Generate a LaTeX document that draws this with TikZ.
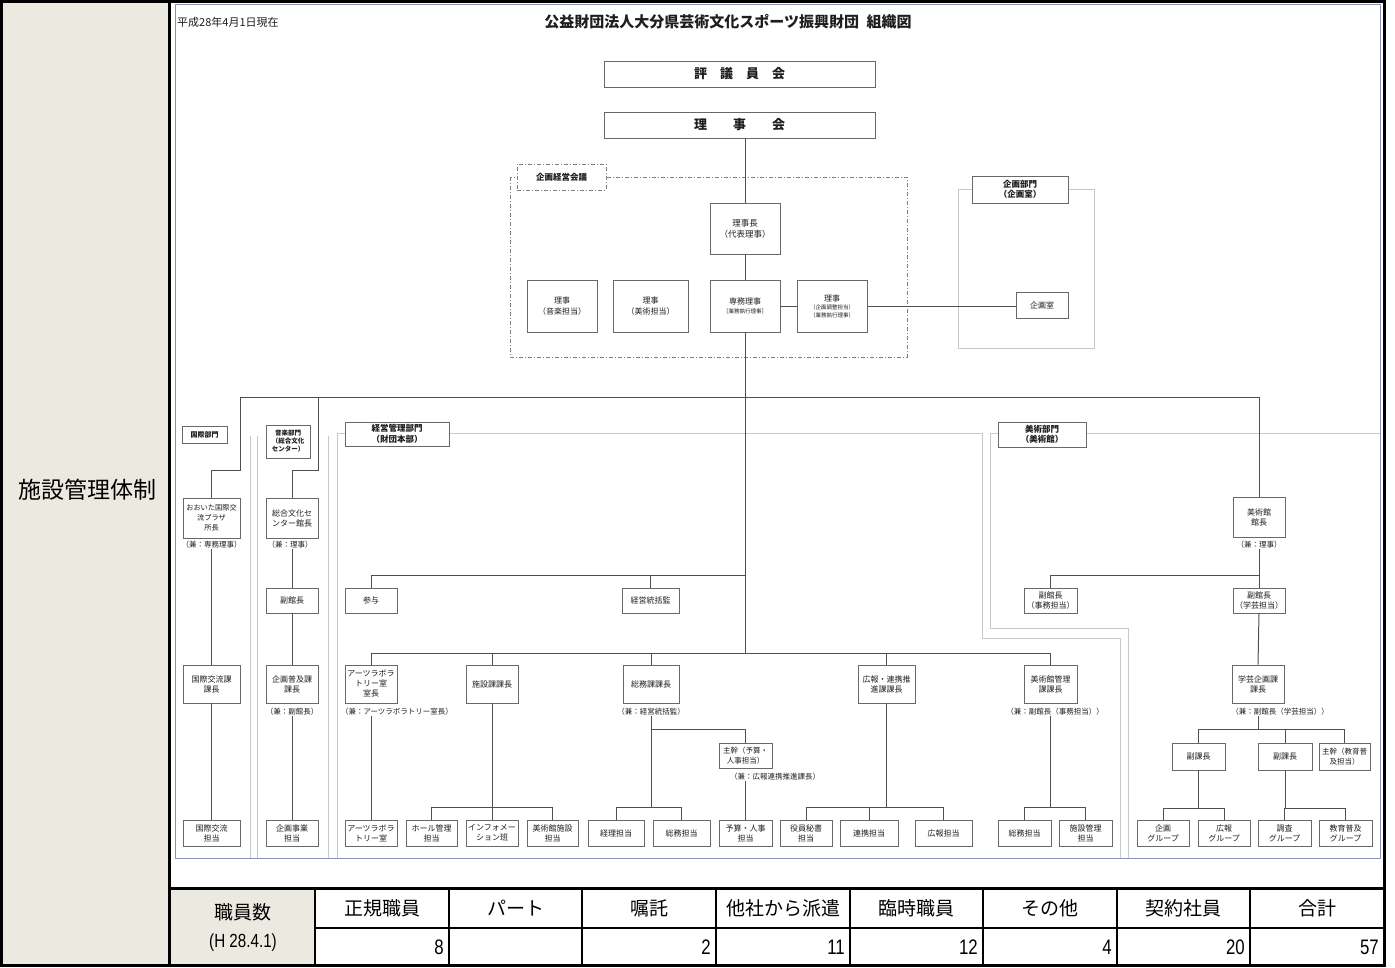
\documentclass[tikz,border=0pt]{standalone}
\usepackage{fontspec}
\setmainfont{Noto Sans CJK JP}
\newfontfamily\numfont{Liberation Sans}[FakeStretch=0.8]
\definecolor{beige}{RGB}{236,233,224}
\definecolor{linec}{RGB}{80,80,80}
\definecolor{boxc}{RGB}{105,105,105}
\definecolor{framec}{RGB}{200,200,200}
\definecolor{borderc}{RGB}{140,146,190}
\definecolor{txtc}{RGB}{30,30,30}
\newcommand\sm[1]{{\fontsize{5.5}{6.5}\selectfont #1}}
\newcommand\bx[7][]{\node[box,#1,minimum width={#5-#3},minimum height={#6-#4}] (#2) at ({(#3+#5)/2},{(#4+#6)/2}) {#7};}
\tikzset{
 box/.style={draw=boxc, line width=0.9pt, fill=white, align=center, inner sep=0.5pt, text=txtc, font=\fontsize{8}{10}\selectfont},
 lbl/.style={font=\fontsize{8.5}{10.5}\selectfont\bfseries},
 note/.style={inner sep=0pt, text=txtc, font=\fontsize{7.5}{8}\selectfont},
 conn/.style={draw=linec, line width=1pt},
 frame/.style={draw=framec, line width=0.8pt},
 hdr/.style={inner sep=0pt, font=\fontsize{19}{20}\selectfont},
 num/.style={inner sep=0pt, anchor=east, font=\numfont\fontsize{21}{22}\selectfont},
}
\begin{document}
\begin{tikzpicture}[x=1pt,y=-1pt]
\useasboundingbox (0,0) rectangle (1395,967);
% backgrounds
\fill[beige] (0,0) rectangle (168,967);
\fill[beige] (168,888) rectangle (315,967);
% chart frames
\draw[frame] (250,436) -- (250,858);
\draw[frame] (257,436) -- (257,858);
\draw[frame] (328,436) -- (328,858);
\draw[frame] (337,858) -- (337,433) -- (982,433) -- (982,638) -- (1120,638) -- (1120,858);
\draw[frame] (1380,433) -- (990,433) -- (990,628) -- (1128,628) -- (1128,858);
\draw[draw=borderc, line width=1pt] (175,4) rectangle (1380,858);
\draw[frame] (958,189) rectangle (1094,348);
\draw[draw=gray, line width=0.8pt, dash pattern=on 4pt off 2pt on 1pt off 2pt] (510,177) rectangle (907,357);

% titles
\node[anchor=west, inner sep=0pt, text=txtc, font=\fontsize{11}{12}\selectfont] (date) at (177,22) {平成28年4月1日現在};
\node[inner sep=0pt, text=txtc, font=\fontsize{15}{16}\selectfont\bfseries] (title) at (728,22) {公益財団法人大分県芸術文化スポーツ振興財団\hspace{0.5em}組織図};

% top boxes
\bx[font=\fontsize{13}{14}\selectfont\bfseries]{hyogi}{604}{61}{875}{87}{評　議　員　会}
\bx[font=\fontsize{13}{14}\selectfont\bfseries]{rijikai}{604}{112}{875}{138}{理　　事　　会}
\bx[lbl, dash pattern=on 4pt off 2pt on 1pt off 2pt, draw=gray]{kikei}{517}{164}{606}{190}{企画経営会議}
\bx[font=\fontsize{8.5}{11}\selectfont]{rijicho}{710}{203}{780}{254}{理事長\\（代表理事）}
\bx[font=\fontsize{8}{11}\selectfont]{rijiongaku}{527}{280}{597}{332}{理事\\（音楽担当）}
\bx[font=\fontsize{8}{11}\selectfont]{rijibijutsu}{613}{280}{688}{332}{理事\\（美術担当）}
\bx[font=\fontsize{8}{9.5}\selectfont]{senmu}{710}{280}{780}{332}{専務理事\\\sm{［業務執行理事］}}
\bx[font=\fontsize{8}{8}\selectfont]{rijikikaku}{797}{280}{867}{332}{理事\\\sm{（企画調整担当）}\\\sm{（業務執行理事）}}
\bx[lbl]{kikakubumon}{972}{176}{1068}{203}{企画部門\\（企画室）}
\bx{kikakushitsu}{1016}{292}{1068}{318}{企画室}

% department labels
\bx[font=\fontsize{7}{8}\selectfont\bfseries]{kokusaibumon}{182}{426}{227}{443}{国際部門}
\bx[font=\fontsize{6.5}{8}\selectfont\bfseries]{ongakubumon}{266}{425}{310}{458}{音楽部門\\（総合文化\\センター）}
\bx[lbl]{keieibumon}{345}{422}{449}{446}{経営管理部門\\（財団本部）}
\bx[lbl]{bijutsubumon}{998}{422}{1086}{447}{美術部門\\（美術館）}

% kokusai column
\bx[font=\fontsize{7.2}{10}\selectfont]{plaza}{183}{498}{240}{538}{おおいた国際交\\流プラザ\\所長}
\node[note] (nplaza) at (211.5,545) {（兼：専務理事）};
\bx{kokusaikacho}{183}{665}{240}{703}{国際交流課\\課長}
\bx{kokusaitanto}{183}{820}{240}{846}{国際交流\\担当}

% ongaku column
\bx{sogobunka}{266}{498}{318}{538}{総合文化セ\\ンター館長}
\node[note] (nsogo) at (290,545) {（兼：理事）};
\bx{fukukancho}{266}{588}{318}{613}{副館長}
\bx{fukyukacho}{266}{665}{318}{703}{企画普及課\\課長}
\node[note] (nfukyu) at (292,712) {（兼：副館長）};
\bx{kikakujigyo}{266}{820}{318}{846}{企画事業\\担当}

% keiei
\bx{sanyo}{345}{588}{397}{613}{参与}
\bx{tokatsu}{622}{588}{679}{613}{経営統括監}
\bx{artslab}{345}{665}{397}{703}{アーツラボラ\\トリー室\\室長}
\node[note] (narts) at (397,712) {（兼：アーツラボラトリー室長）};
\bx{shisetsu}{466}{665}{518}{703}{施設課課長}
\bx{somu}{623}{665}{679}{703}{総務課課長}
\node[note] (nsomu) at (651,712) {（兼：経営統括監）};
\bx[font=\fontsize{7.5}{10}\selectfont]{shukan}{719}{743}{772}{768}{主幹（予算・\\人事担当）}
\node[note] (nshukan) at (775,777) {（兼：広報連携推進課長）};
\bx{koho}{858}{665}{915}{703}{広報・連携推\\進課課長}
\bx{bijkanri}{1024}{665}{1077}{703}{美術館管理\\課課長}
\node[note] (nbijkanri) at (1055,712) {（兼：副館長（事務担当））};

% bottom row
\bx{artsroom}{345}{820}{397}{846}{アーツラボラ\\トリー室}
\bx{hall}{406}{820}{457}{846}{ホール管理\\担当}
\bx{info}{466}{820}{518}{846}{インフォメー\\ション班}
\bx{bijshisetsu}{527}{820}{578}{846}{美術館施設\\担当}
\bx{keiri}{588}{820}{644}{846}{経理担当}
\bx{somutanto}{653}{820}{710}{846}{総務担当}
\bx{yosan}{719}{820}{772}{846}{予算・人事\\担当}
\bx{yakuin}{780}{820}{832}{846}{役員秘書\\担当}
\bx{renkei}{840}{820}{898}{846}{連携担当}
\bx{kohotanto}{915}{820}{972}{846}{広報担当}
\bx{somutantob}{998}{820}{1051}{846}{総務担当}
\bx{shisetsukanri}{1059}{820}{1112}{846}{施設管理\\担当}
\bx{kikakugr}{1137}{820}{1189}{846}{企画\\グループ}
\bx{kohogr}{1198}{820}{1250}{846}{広報\\グループ}
\bx{chosagr}{1258}{820}{1311}{846}{調査\\グループ}
\bx{kyoikugr}{1319}{820}{1372}{846}{教育普及\\グループ}

% bijutsu
\bx{kancho}{1233}{497}{1285}{537}{美術館\\館長}
\node[note] (nkancho) at (1259,545) {（兼：理事）};
\bx{fkjimu}{1024}{588}{1077}{613}{副館長\\（事務担当）}
\bx{fkgakugei}{1233}{588}{1285}{613}{副館長\\（学芸担当）}
\bx{gakugei}{1232}{665}{1284}{703}{学芸企画課\\課長}
\node[note] (ngakugei) at (1280,712) {（兼：副館長（学芸担当））};
\bx{fukukacho}{1172}{743}{1225}{770}{副課長}
\bx{fukukachob}{1258}{743}{1312}{770}{副課長}
\bx[font=\fontsize{7.5}{10}\selectfont]{shukanb}{1319}{743}{1370}{770}{主幹（教育普\\及担当）}

% junction coordinates
\coordinate (busL) at (240,397);
\coordinate (busM) at (318,397);
\coordinate (busR) at (1259,397);
\coordinate (busC) at (745,653);
\coordinate (b2L) at (371,653);
\coordinate (b2R) at (1050.5,653);
\coordinate (b3L) at (371,575);
\coordinate (b3R) at (745,575);
\coordinate (kj) at (1259,575);
\coordinate (gj) at (1258,729);
\coordinate (sj) at (651,729);

% connectors
\draw[conn] (rijikai.south -| rijicho.north) -- (rijicho.north);
\draw[conn] (rijicho.south) -- (senmu.north);
\draw[conn] (senmu.east) -- (rijikikaku.west);
\draw[conn] (rijikikaku.east) -- (kikakushitsu.west |- rijikikaku.east);
\draw[conn] (senmu.south) -- (busC);
\draw[conn] (busL) -- (busR);
\draw[conn] (busL) -- (240,470) -- (plaza.north |- 0,470) -- (plaza.north);
\draw[conn] (busM) -- (318,470) -- (sogobunka.north |- 0,470) -- (sogobunka.north);
\draw[conn] (busR) -- (kancho.north);
\draw[conn] (nplaza.south -| plaza.south) -- (kokusaikacho.north);
\draw[conn] (kokusaikacho.south) -- (kokusaitanto.north);
\draw[conn] (nsogo.south -| sogobunka.south) -- (fukukancho.north);
\draw[conn] (fukukancho.south) -- (fukyukacho.north);
\draw[conn] (nfukyu.south -| fukyukacho.south) -- (kikakujigyo.north);
% keiei
\draw[conn] (b3L) -- (b3R);
\draw[conn] (b3L) -- (sanyo.north);
\draw[conn] (tokatsu.north |- b3L) -- (tokatsu.north);
\draw[conn] (b2L) -- (b2R);
\draw[conn] (b2L) -- (artslab.north);
\draw[conn] (shisetsu.north |- b2L) -- (shisetsu.north);
\draw[conn] (somu.north |- b2L) -- (somu.north);
\draw[conn] (koho.north |- b2L) -- (koho.north);
\draw[conn] (b2R) -- (bijkanri.north);
\draw[conn] (narts.south -| artslab.south) -- (artsroom.north);
\draw[conn] (shisetsu.south) -- (shisetsu.south |- 0,807);
\draw[conn] (hall.north |- 0,807) -- (bijshisetsu.north |- 0,807);
\draw[conn] (hall.north |- 0,807) -- (hall.north);
\draw[conn] (info.north |- 0,807) -- (info.north);
\draw[conn] (bijshisetsu.north |- 0,807) -- (bijshisetsu.north);
\draw[conn] (nsomu.south -| somu.south) -- (somu.south |- 0,807);
\draw[conn] (keiri.north |- 0,807) -- (somutanto.north |- 0,807);
\draw[conn] (keiri.north |- 0,807) -- (keiri.north);
\draw[conn] (somutanto.north |- 0,807) -- (somutanto.north);
\draw[conn] (sj) -- (sj -| shukan.north) -- (shukan.north);
\draw[conn] (nshukan.south -| shukan.south) -- (yosan.north);
\draw[conn] (koho.south) -- (koho.south |- 0,807);
\draw[conn] (yakuin.north |- 0,807) -- (kohotanto.north |- 0,807);
\draw[conn] (yakuin.north |- 0,807) -- (yakuin.north);
\draw[conn] (renkei.north |- 0,807) -- (renkei.north);
\draw[conn] (kohotanto.north |- 0,807) -- (kohotanto.north);
\draw[conn] (nbijkanri.south -| bijkanri.south) -- (bijkanri.south |- 0,807);
\draw[conn] (somutantob.north |- 0,807) -- (shisetsukanri.north |- 0,807);
\draw[conn] (somutantob.north |- 0,807) -- (somutantob.north);
\draw[conn] (shisetsukanri.north |- 0,807) -- (shisetsukanri.north);
% bijutsu
\draw[conn] (nkancho.south) -- (fkgakugei.north);
\draw[conn] (kj) -- (kj -| fkjimu.north) -- (fkjimu.north);
\draw[conn] (fkgakugei.south) -- (gakugei.north);
\draw[conn] (ngakugei.south -| gj) -- (gj);
\draw[conn] (gj -| fukukacho.north) -- (gj -| shukanb.north);
\draw[conn] (gj -| fukukacho.north) -- (fukukacho.north);
\draw[conn] (gj -| fukukachob.north) -- (fukukachob.north);
\draw[conn] (gj -| shukanb.north) -- (shukanb.north);
\draw[conn] (fukukacho.south) -- (fukukacho.south |- 0,808);
\draw[conn] (kikakugr.north |- 0,808) -- (kohogr.north |- 0,808);
\draw[conn] (kikakugr.north |- 0,808) -- (kikakugr.north);
\draw[conn] (kohogr.north |- 0,808) -- (kohogr.north);
\draw[conn] (fukukachob.south) -- (fukukachob.south |- 0,808);
\draw[conn] (chosagr.north |- 0,808) -- (kyoikugr.north |- 0,808);
\draw[conn] (chosagr.north |- 0,808) -- (chosagr.north);
\draw[conn] (kyoikugr.north |- 0,808) -- (kyoikugr.north);

% side label
\node[inner sep=0pt, font=\fontsize{23}{24}\selectfont] (sidelabel) at (88,490) {施設管理体制};

% table
\node[hdr] (hlabel) at (243,912) {職員数};
\node[inner sep=0pt, font=\numfont\fontsize{19}{20}\selectfont] (hdate) at (243,943) {(H 28.4.1)};
\node[hdr] (h1) at (382,908) {正規職員};
\node[hdr] (h2) at (515.5,908) {パート};
\node[hdr] (h3) at (649,908) {嘱託};
\node[hdr] (h4) at (783,908) {他社から派遣};
\node[hdr] (h5) at (916.5,908) {臨時職員};
\node[hdr] (h6) at (1050,908) {その他};
\node[hdr] (h7) at (1183.5,908) {契約社員};
\node[hdr] (h8) at (1317,908) {合計};
\node[num] (v1) at (444,947) {8};
\node[num] (v3) at (711,947) {2};
\node[num] (v4) at (845,947) {11};
\node[num] (v5) at (978,947) {12};
\node[num] (v6) at (1112,947) {4};
\node[num] (v7) at (1245,947) {20};
\node[num] (v8) at (1379,947) {57};
\draw[line width=3pt] (168,888) -- (1384,888);
\draw[line width=1.6pt] (315,928) -- (1384,928);
\foreach \cx in {315,449,582,716,850,983,1117,1250}
  \draw[line width=1.6pt] (\cx,888) -- (\cx,967);
\draw[line width=3pt] (169.5,0) -- (169.5,967);
\draw[line width=3pt] (1.5,1.5) rectangle (1384.5,965.5);
\end{tikzpicture}
\end{document}
